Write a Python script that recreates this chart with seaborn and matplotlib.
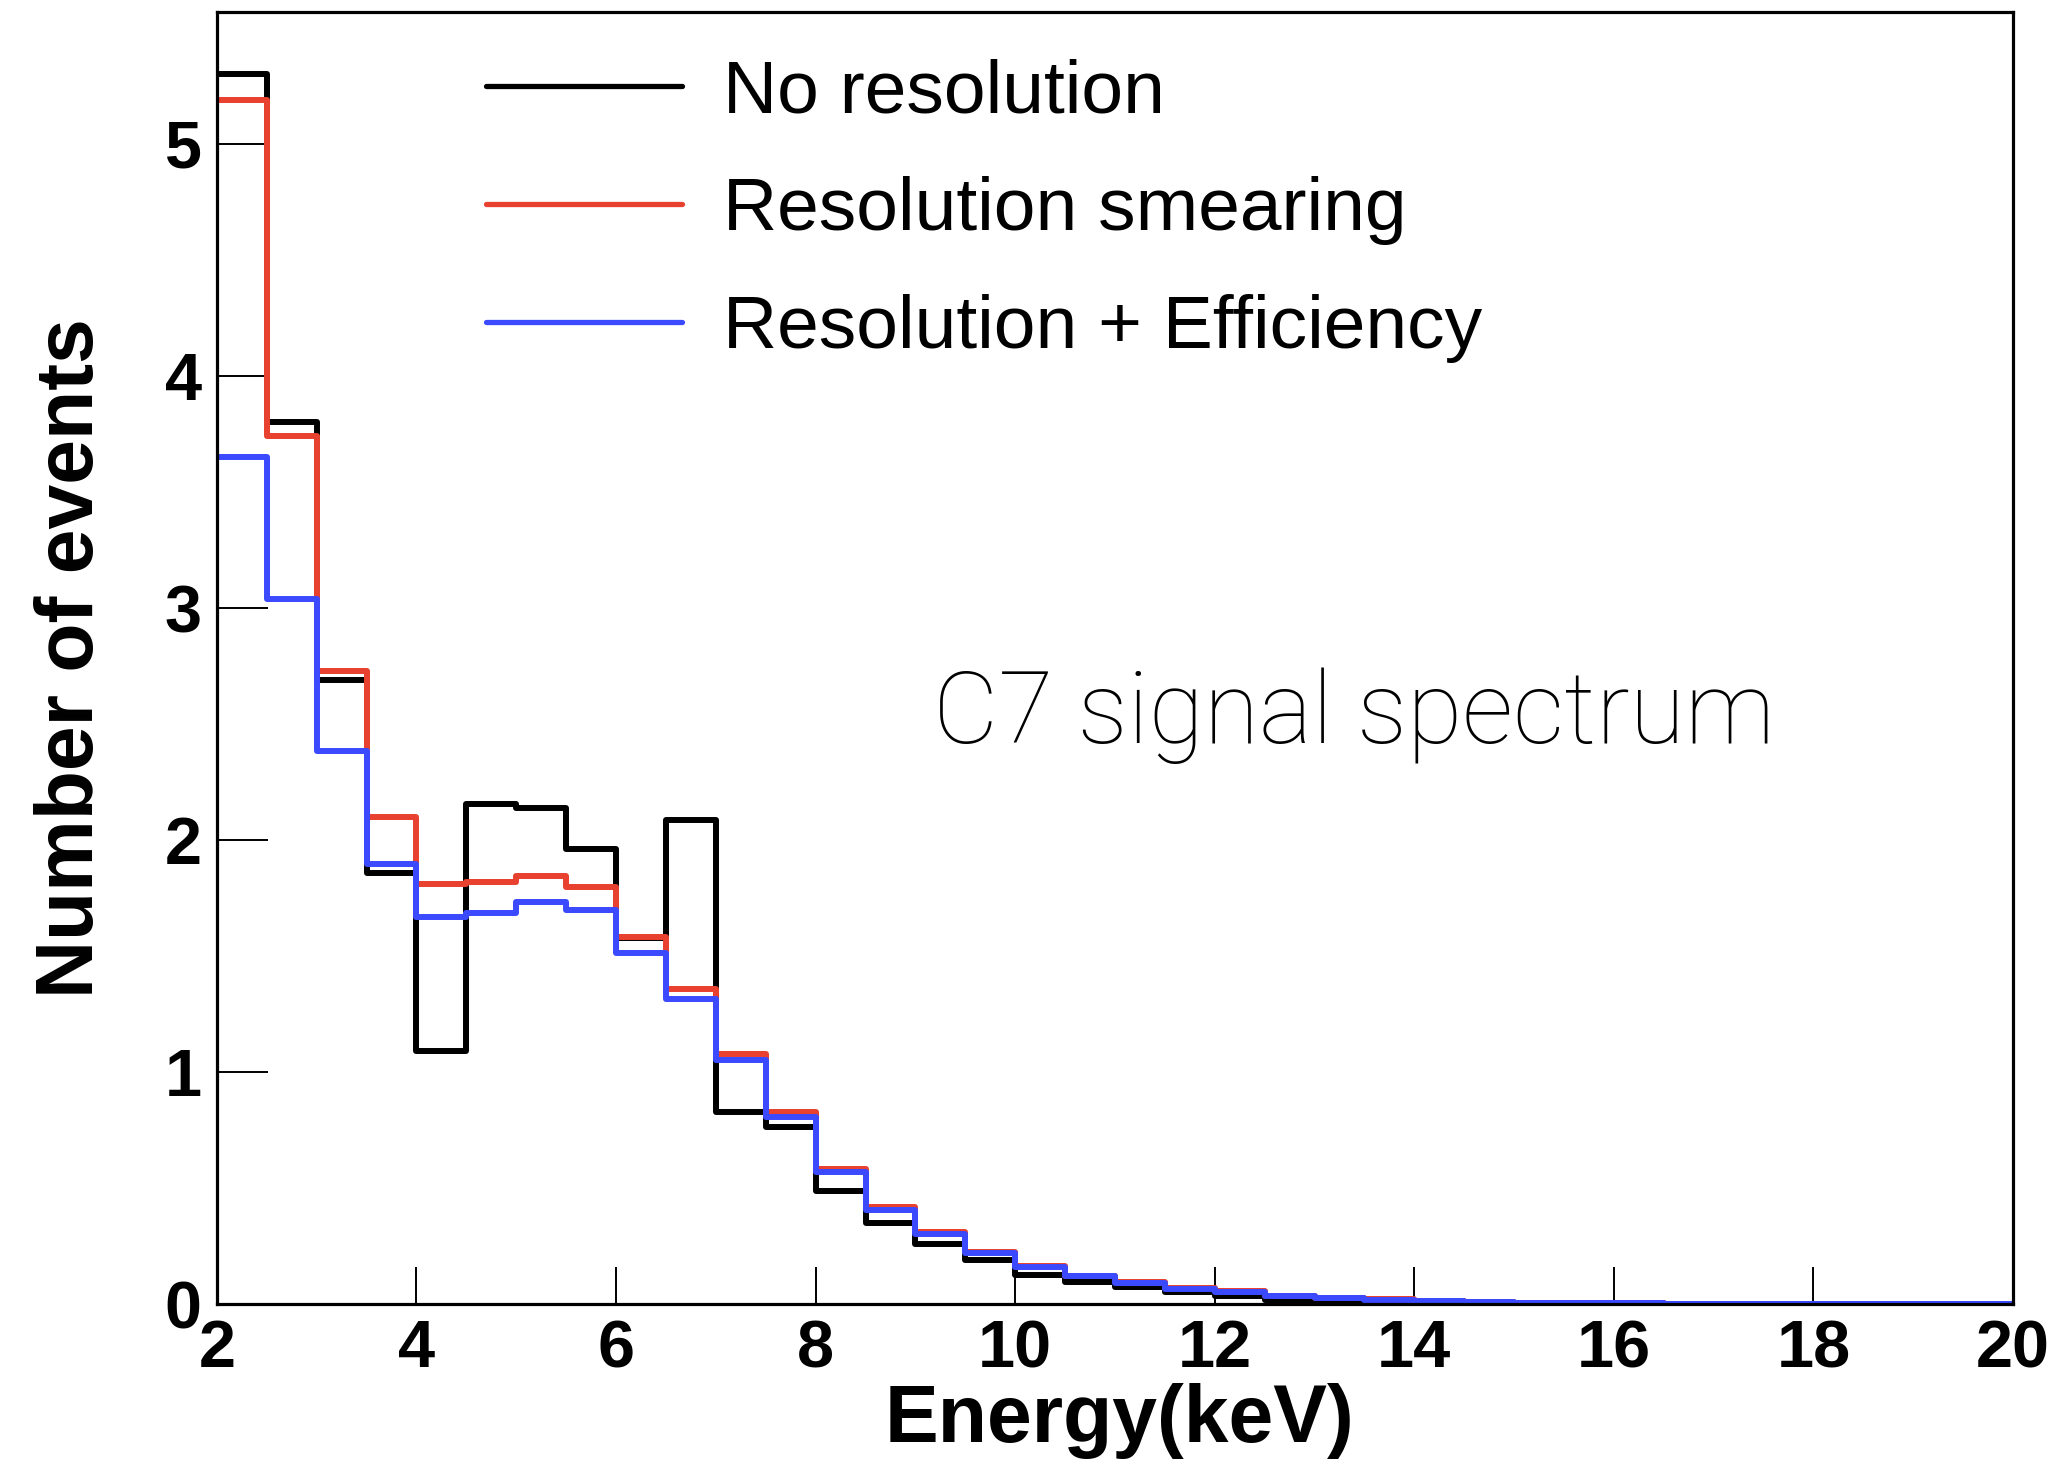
import pandas as pd
import matplotlib
matplotlib.use("Agg")
import matplotlib.pyplot as plt
import seaborn as sns

# Energy binning (keV): 36 bins of 0.5 keV between 2 and 20
bin_edges = [2.0 + 0.5 * i for i in range(37)]

# Expected number of events per bin
no_resolution = [5.30, 3.80, 2.69, 1.86, 1.09, 2.155, 2.14, 1.96, 1.577, 2.085,
                 0.829, 0.763, 0.488, 0.350, 0.259, 0.190, 0.126, 0.093, 0.072, 0.053,
                 0.036, 0.017, 0.010, 0.004, 0.002, 0.001, 0.001, 0.0, 0.0, 0.0,
                 0.0, 0.0, 0.0, 0.0, 0.0, 0.0]
resolution_smearing = [5.19, 3.74, 2.727, 2.098, 1.812, 1.818, 1.847, 1.797, 1.583, 1.357,
                       1.078, 0.829, 0.583, 0.418, 0.309, 0.226, 0.165, 0.122, 0.093, 0.068,
                       0.055, 0.036, 0.026, 0.020, 0.013, 0.009, 0.006, 0.004, 0.003, 0.002,
                       0.0015, 0.001, 0.001, 0.0005, 0.0005, 0.0003]
resolution_efficiency = [3.65, 3.04, 2.384, 1.896, 1.669, 1.687, 1.735, 1.698, 1.511, 1.313,
                         1.053, 0.807, 0.570, 0.405, 0.302, 0.220, 0.161, 0.119, 0.089, 0.065,
                         0.050, 0.033, 0.024, 0.017, 0.012, 0.008, 0.006, 0.004, 0.003, 0.002,
                         0.0015, 0.001, 0.001, 0.0005, 0.0005, 0.0003]

series_labels = ["No resolution", "Resolution smearing", "Resolution + Efficiency"]
series_colors = ["#000000", "#E8412F", "#3B4AFF"]

x_ticks = [2, 4, 6, 8, 10, 12, 14, 16, 18, 20]
y_ticks = [0, 1, 2, 3, 4, 5]

sns.set_style("white")
plt.rcParams["font.family"] = ["Liberation Sans", "DejaVu Sans"]
plt.rcParams["text.color"] = "black"
plt.rcParams["axes.labelcolor"] = "black"

fig = plt.figure(figsize=(20.6, 14.59), dpi=100)
ax = fig.add_axes([0.1053, 0.1062, 0.8719, 0.8856])

centers = [0.5 * (lo + hi) for lo, hi in zip(bin_edges[:-1], bin_edges[1:])]
handles = []
for values, label, color in zip(
        [no_resolution, resolution_smearing, resolution_efficiency],
        series_labels, series_colors):
    df = pd.DataFrame({"energy": centers, "events": values})
    sns.histplot(data=df, x="energy", weights="events", bins=bin_edges,
                 element="step", fill=False, color=color, linewidth=4.3, ax=ax)
    line = ax.lines[-1]
    line.set_label(label)
    handles.append(line)

ax.set_xlim(2, 20)
ax.set_ylim(0, 5.569)
ax.set_xticks(x_ticks)
ax.set_yticks(y_ticks)
ax.set_xticklabels([str(t) for t in x_ticks])
ax.set_yticklabels([str(t) for t in y_ticks])

for side in ["left", "right", "top", "bottom"]:
    ax.spines[side].set_visible(True)
    ax.spines[side].set_color("black")
    ax.spines[side].set_linewidth(2.3)

ax.tick_params(axis="both", which="major", direction="in", width=1.4,
               color="black", labelsize=48, labelcolor="black")
ax.tick_params(axis="x", length=27, pad=11, top=False, bottom=True)
ax.tick_params(axis="y", length=37, pad=11, right=False, left=True)
for lbl in ax.get_xticklabels() + ax.get_yticklabels():
    lbl.set_fontweight("bold")

ax.set_xlabel("Energy(keV)", fontsize=58, fontweight="bold", color="black")
ax.set_ylabel("Number of events", fontsize=58, fontweight="bold", color="black")
ax.xaxis.set_label_coords(0.5025, -0.061)
ax.yaxis.set_label_coords(-0.0596, 0.5)

leg = ax.legend(handles=handles, labels=series_labels, loc="upper left",
                bbox_to_anchor=(0.1498, 0.9640), frameon=False, fontsize=54,
                handlelength=2.61, handletextpad=0.55, labelspacing=0.65,
                borderpad=0.0, borderaxespad=0.0)
for h in leg.legend_handles:
    h.set_linewidth(3.8)
for t in leg.get_texts():
    t.set_color("black")

ax.text(9.18, 2.42, "C7 signal spectrum", fontsize=72.5, fontweight="light",
        family=["Roboto", "DejaVu Sans"], ha="left", va="baseline", color="black")

fig.savefig("out.png", dpi=100, facecolor="white")
